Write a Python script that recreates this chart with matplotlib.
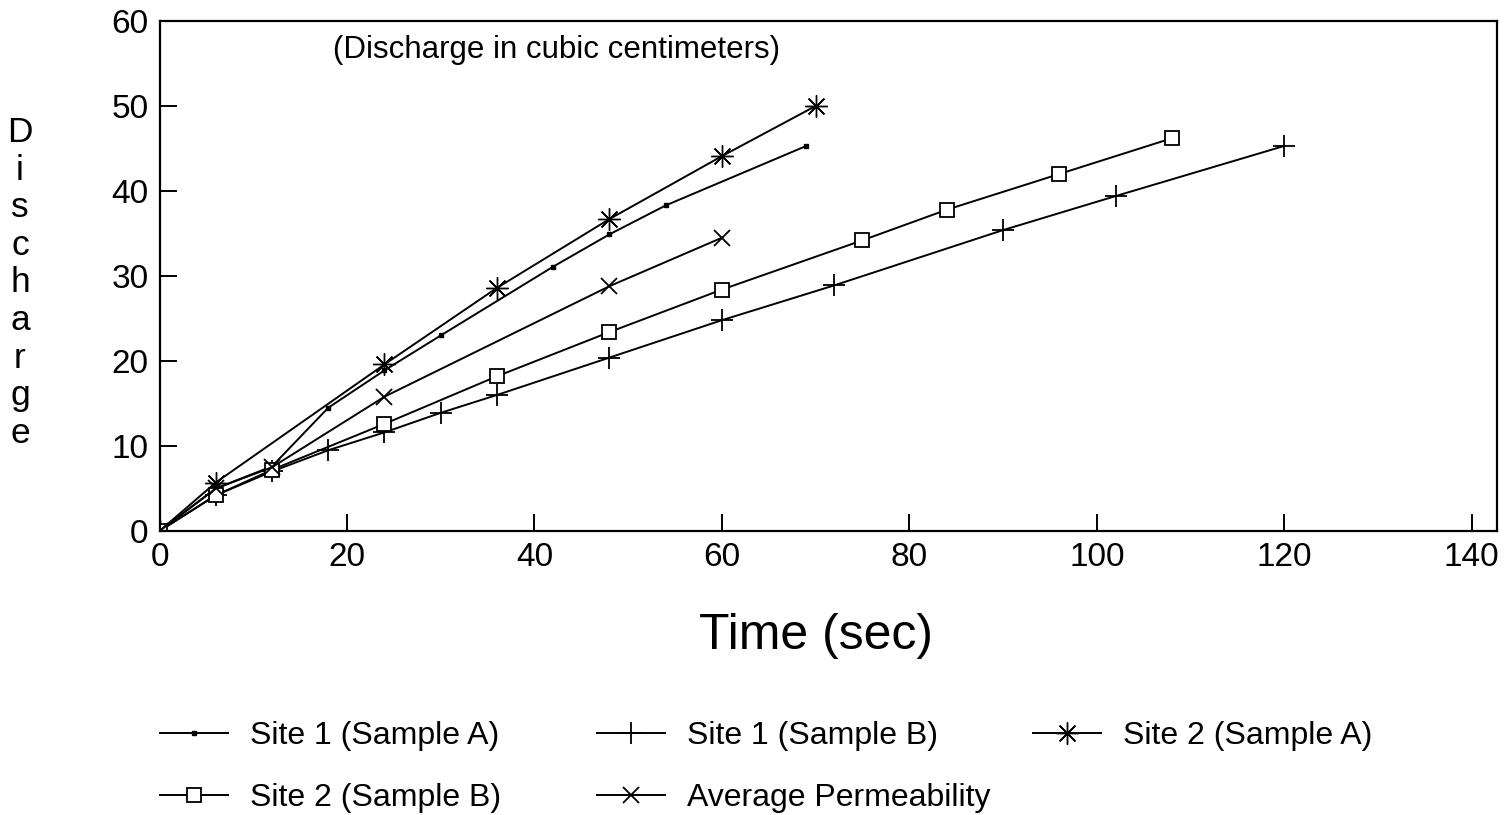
import matplotlib
matplotlib.use("Agg")
import matplotlib.pyplot as plt

plt.rcParams['font.family'] = ['Liberation Sans', 'DejaVu Sans']

# ---- data ----
s1a_t = [0, 6, 12, 18, 24, 30, 42, 48, 54, 69]
s1a_v = [0, 5.0, 7.6, 14.5, 18.9, 23.0, 31.1, 34.9, 38.3, 45.3]

s1b_t = [0, 6, 12, 18, 24, 30, 36, 48, 60, 72, 90, 102, 120]
s1b_v = [0, 4.2, 7.0, 9.5, 11.6, 13.9, 16.0, 20.4, 24.8, 28.9, 35.4, 39.4, 45.3]

s2a_t = [0, 6, 24, 36, 48, 60, 70]
s2a_v = [0, 5.7, 19.6, 28.6, 36.7, 44.1, 50.0]

s2b_t = [0, 6, 12, 24, 36, 48, 60, 75, 84, 96, 108]
s2b_v = [0, 4.2, 7.2, 12.6, 18.2, 23.4, 28.4, 34.2, 37.8, 42.0, 46.2]

avg_t = [0, 6, 12, 24, 48, 60]
avg_v = [0, 5.0, 7.5, 15.8, 28.8, 34.5]

labels = ["Site 1 (Sample A)", "Site 1 (Sample B)", "Site 2 (Sample A)",
          "Site 2 (Sample B)", "Average Permeability"]
xticks = [0, 20, 40, 60, 80, 100, 120, 140]
yticks = [0, 10, 20, 30, 40, 50, 60]

fig = plt.figure(figsize=(15.11, 8.15), dpi=100)
ax = fig.add_axes([0.1056, 0.3485, 0.8851, 0.6257])

lw = 1.4
h1, = ax.plot(s1a_t, s1a_v, color='black', lw=lw, marker='s', ms=3.5, label=labels[0])
h2, = ax.plot(s1b_t, s1b_v, color='black', lw=lw, marker='+', ms=16, mew=1.3, label=labels[1])
h3, = ax.plot(s2a_t, s2a_v, color='black', lw=lw, marker=(8, 2, 0), ms=16, mew=1.0, label=labels[2])
h4, = ax.plot(s2b_t, s2b_v, color='black', lw=lw, marker='s', ms=10, mfc='white', mew=1.3, label=labels[3])
h5, = ax.plot(avg_t, avg_v, color='black', lw=lw, marker='x', ms=12, mew=1.3, label=labels[4])

ax.set_xlim(0, 142.7)
ax.set_ylim(0, 60)
ax.set_xticks(xticks)
ax.set_yticks(yticks)
ax.tick_params(direction='in', length=12, width=1.4, labelsize=24, pad=8)
ax.tick_params(axis='y', right=False)
for sp in ax.spines.values():
    sp.set_linewidth(1.6)

fig.text(816/1511, 1 - 636/815, "Time (sec)", fontsize=36, ha='center', va='center')
fig.text(0.0132, 1 - 283/815, "\n".join("Discharge"), fontsize=25.5, ha='center', va='center',
         multialignment='center', linespacing=1.177)

ax.text(18.5, 56.6, "(Discharge in cubic centimeters)", fontsize=22.5, ha='left', va='center')

common = dict(frameon=False, fontsize=23, handlelength=2.13, handletextpad=0.69,
              borderpad=0, borderaxespad=0, labelspacing=1.0, loc='upper left')
top = 1 - 721/815
fig.legend([h1, h4], [labels[0], labels[3]], bbox_to_anchor=(160/1511, top), **common)
fig.legend([h2, h5], [labels[1], labels[4]], bbox_to_anchor=(597/1511, top), **common)
fig.legend([h3], [labels[2]], bbox_to_anchor=(1033/1511, top), **common)

fig.savefig("out.png", dpi=100)
